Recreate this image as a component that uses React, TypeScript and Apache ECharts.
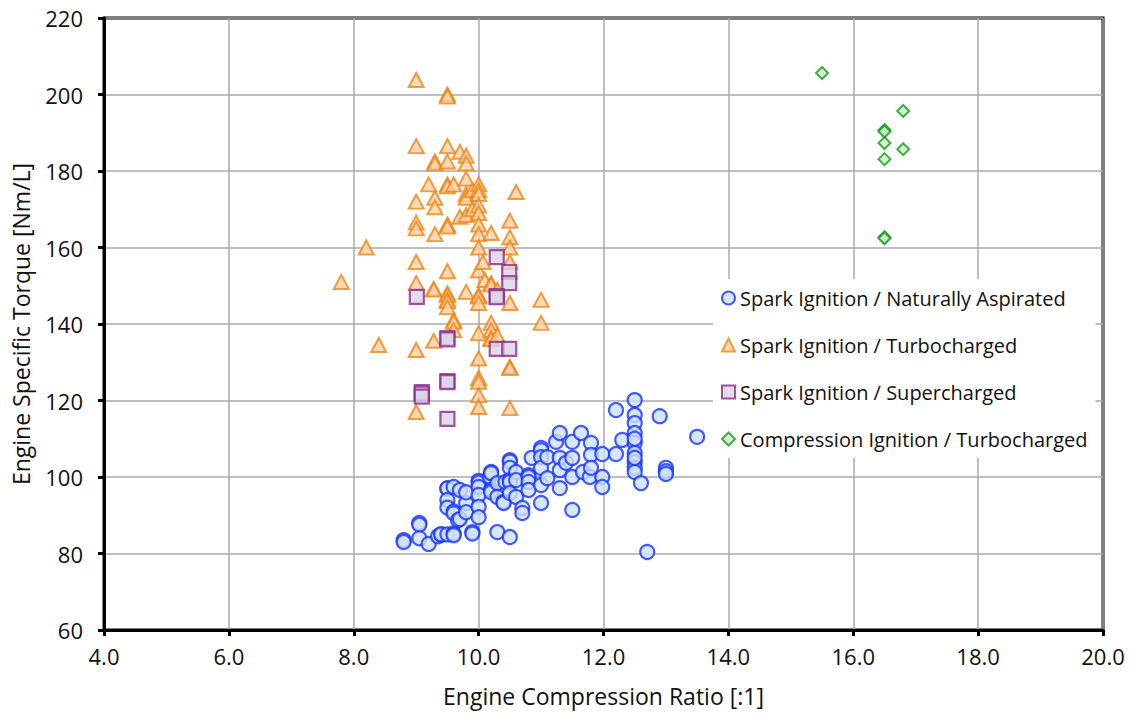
import React, { useEffect, useRef } from "react";
import * as echarts from "echarts";

const xTicks = [4, 6, 8, 10, 12, 14, 16, 18, 20];
const yTicks = [60, 80, 100, 120, 140, 160, 180, 200, 220];

const seriesNames = [
  "Spark Ignition / Naturally Aspirated",
  "Spark Ignition / Turbocharged",
  "Spark Ignition / Supercharged",
  "Compression Ignition / Turbocharged",
];

const siNaturallyAspirated: number[][] = [
  [8.8, 83.5], [8.8, 83.0],
  [9.05, 88], [9.05, 87.5], [9.05, 84],
  [9.2, 82.5],
  [9.35, 84.5], [9.4, 85], [9.4, 85],
  [9.5, 97], [9.5, 97], [9.5, 94], [9.5, 92], [9.5, 85],
  [9.6, 97.4], [9.6, 91], [9.6, 90.5], [9.6, 85.2], [9.6, 84.8],
  [9.67, 88.7], [9.7, 96.6], [9.7, 89],
  [9.8, 93.2], [9.8, 90.8], [9.8, 96],
  [9.9, 85.6], [9.9, 85.2],
  [10.0, 99], [10.0, 98.5], [10.0, 97.4], [10.0, 95.3], [10.0, 92.2], [10.0, 89.5],
  [10.18, 100], [10.2, 101.3], [10.2, 101], [10.2, 96.6], [10.2, 96],
  [10.3, 98.4], [10.3, 94.8], [10.3, 85.6],
  [10.4, 93.5], [10.4, 93.2], [10.43, 98.7],
  [10.5, 104.4], [10.5, 104], [10.5, 102.4], [10.5, 99.2], [10.5, 98.7], [10.5, 95.8], [10.5, 84.3],
  [10.6, 101.3], [10.6, 99.2], [10.6, 94.8],
  [10.7, 91.9], [10.7, 90.6],
  [10.8, 100.5], [10.8, 100], [10.8, 98.7], [10.8, 96.6], [10.85, 105],
  [11.0, 107.6], [11.0, 107], [11.0, 105.2], [11.0, 102.4], [11.0, 97.9], [11.0, 93.2],
  [11.1, 105.2], [11.1, 99.7],
  [11.24, 109.2], [11.3, 111.5], [11.3, 105], [11.3, 101.8], [11.3, 97.1],
  [11.4, 103.7],
  [11.5, 109.2], [11.5, 105], [11.5, 100], [11.5, 91.4],
  [11.64, 111.5], [11.67, 101.3],
  [11.78, 100], [11.8, 108.9], [11.8, 105.8], [11.8, 102.4],
  [11.98, 106], [11.98, 100], [11.98, 97.4],
  [12.2, 117.5], [12.2, 106],
  [12.3, 109.7],
  [12.5, 120.1], [12.5, 116.2], [12.5, 114.1], [12.5, 111.5], [12.5, 108.9], [12.5, 106.3],
  [12.5, 103.9], [12.5, 102.4], [12.5, 101.3], [12.5, 110], [12.5, 105],
  [12.6, 98.4],
  [12.7, 80.4],
  [12.9, 115.9],
  [13.0, 102.4], [13.0, 101.5], [13.0, 100.8],
  [13.5, 110.5],
];

const siTurbocharged: number[][] = [
  [9.0, 203.8], [9.5, 200], [9.5, 199.5],
  [7.8, 151], [8.2, 160], [8.4, 134.5],
  [9.0, 186.5], [9.0, 172], [9.0, 166.5], [9.0, 165], [9.0, 156.2], [9.0, 150.7], [9.0, 133.2], [9.0, 117],
  [9.3, 182.5], [9.3, 182], [9.3, 173], [9.3, 170.5], [9.3, 163.5], [9.28, 149.2], [9.28, 149], [9.28, 135.6],
  [9.2, 176.5],
  [9.5, 186.5], [9.5, 182.5], [9.5, 176.5], [9.5, 176], [9.5, 166], [9.5, 165.5], [9.5, 153.8],
  [9.5, 148], [9.5, 147.6], [9.5, 146.3], [9.5, 146], [9.5, 144.4],
  [9.6, 176.5], [9.6, 141], [9.6, 140.6], [9.6, 138.4],
  [9.7, 185], [9.7, 168],
  [9.8, 184], [9.8, 182], [9.8, 178], [9.8, 174], [9.8, 173], [9.8, 168.5], [9.8, 148.4],
  [9.9, 175], [9.9, 170],
  [10.0, 176.5], [10.0, 175], [10.0, 174], [10.0, 171], [10.0, 169], [10.0, 166], [10.0, 163.5],
  [10.0, 160], [10.0, 154], [10.0, 147.6], [10.0, 147.2], [10.0, 145.5], [10.0, 137.6], [10.0, 131],
  [10.0, 125.9], [10.0, 124.9], [10.0, 121.4], [10.0, 118.3],
  [10.07, 156.2], [10.1, 151.5],
  [10.2, 163.8], [10.2, 150.7], [10.2, 150.3], [10.2, 140.3], [10.2, 138.4], [10.2, 136.3], [10.2, 136],
  [10.3, 149], [10.3, 137],
  [10.5, 167], [10.5, 162.7], [10.5, 160], [10.5, 156.2], [10.5, 145.5], [10.5, 128.8], [10.5, 128.5], [10.5, 118],
  [10.6, 174.5],
  [11.0, 146.3], [11.0, 140.3],
];

const siSupercharged: number[][] = [
  [10.29, 157.5], [10.49, 153.6], [10.49, 150.7], [10.29, 147.3], [10.29, 147],
  [9.01, 147.1], [9.5, 136.3], [9.5, 136], [10.29, 133.5], [10.49, 133.5],
  [9.5, 125.1], [9.5, 124.8], [9.09, 122.2], [9.09, 121.8], [9.09, 121], [9.5, 115.2],
];

const ciTurbocharged: number[][] = [
  [15.5, 205.6], [16.5, 190.7], [16.5, 190.3], [16.5, 187.3], [16.5, 183.1],
  [16.8, 195.7], [16.8, 185.7], [16.5, 162.7], [16.5, 162.4],
];

const FONT = "'Open Sans', Lato, sans-serif";

export default function App() {
  const ref = useRef<HTMLDivElement>(null);
  useEffect(() => {
    document.body.style.margin = "0";
    if (!ref.current) return;
    const chart = echarts.init(ref.current, undefined, { renderer: "svg" });
    chart.setOption({
      animation: false,
      backgroundColor: "#ffffff",
      textStyle: { fontFamily: FONT },
      grid: {
        left: 104,
        right: 32,
        top: 18,
        bottom: 87,
        show: true,
        borderColor: "#000",
        borderWidth: 3,
        backgroundColor: "transparent",
      },
      xAxis: {
        type: "value",
        min: xTicks[0],
        max: xTicks[xTicks.length - 1],
        interval: 2,
        name: "Engine Compression Ratio [:1]",
        nameLocation: "middle",
        nameGap: 54,
        nameTextStyle: { fontSize: 23, color: "#111", fontFamily: FONT },
        axisLine: { show: true, lineStyle: { color: "#000", width: 3 } },
        axisTick: { show: true, length: 6, lineStyle: { color: "#000", width: 3 } },
        axisLabel: {
          fontSize: 22,
          color: "#111",
          margin: 15,
          fontFamily: FONT,
          formatter: (v: number) => v.toFixed(1),
        },
        splitLine: { show: true, lineStyle: { color: "#aaa", width: 1.5 } },
      },
      yAxis: {
        type: "value",
        min: yTicks[0],
        max: yTicks[yTicks.length - 1],
        interval: 20,
        name: "Engine Specific Torque [Nm/L]",
        nameLocation: "middle",
        nameGap: 72,
        nameTextStyle: { fontSize: 23, color: "#111", fontFamily: FONT },
        axisLine: { show: true, lineStyle: { color: "#000", width: 3 } },
        axisTick: { show: true, length: 6, lineStyle: { color: "#000", width: 3 } },
        axisLabel: { fontSize: 22, color: "#111", margin: 21, fontFamily: FONT },
        splitLine: { show: true, lineStyle: { color: "#aaa", width: 1.5 } },
      },
      legend: {
        orient: "vertical",
        left: 713,
        top: 279,
        padding: [6, 8, 6, 8],
        backgroundColor: "#fff",
        itemGap: 21,
        itemWidth: 13,
        itemHeight: 13,
        textStyle: { fontSize: 20, color: "#111", fontFamily: FONT, lineHeight: 26 },
        data: seriesNames,
      },
      series: [
        {
          name: seriesNames[0],
          type: "scatter",
          symbol: "circle",
          symbolSize: 14,
          data: siNaturallyAspirated,
          itemStyle: { color: "#cfe0f5", borderColor: "#1535ff", borderWidth: 2.2 },
          z: 2,
        },
        {
          name: seriesNames[1],
          type: "scatter",
          symbol: "triangle",
          symbolSize: [15, 14],
          data: siTurbocharged,
          itemStyle: { color: "#fdd0a6", borderColor: "#ef8514", borderWidth: 2 },
          z: 3,
        },
        {
          name: seriesNames[2],
          type: "scatter",
          symbol: "rect",
          symbolSize: 14,
          data: siSupercharged,
          itemStyle: { color: "#dcd3e6", borderColor: "#8b2a8b", borderWidth: 2.2 },
          z: 4,
        },
        {
          name: seriesNames[3],
          type: "scatter",
          symbol: "diamond",
          symbolSize: 12,
          data: ciTurbocharged,
          itemStyle: { color: "#c9efc9", borderColor: "#179917", borderWidth: 2 },
          z: 5,
        },
      ],
    });
    return () => chart.dispose();
  }, []);
  return <div ref={ref} style={{ width: 1135, height: 717 }} />;
}
